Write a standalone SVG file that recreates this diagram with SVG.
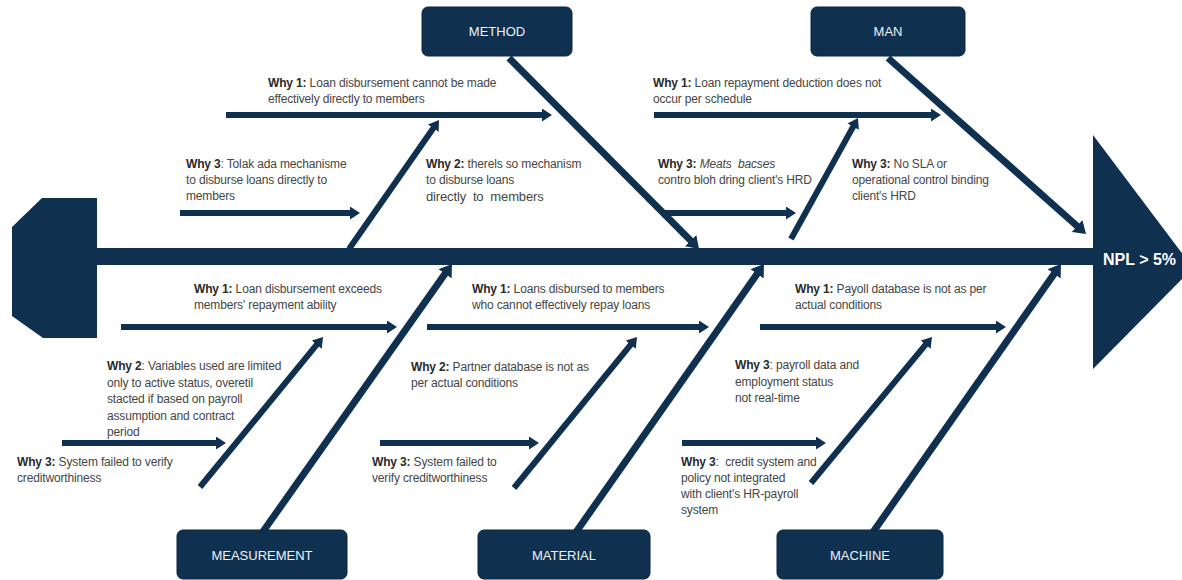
<svg xmlns="http://www.w3.org/2000/svg" width="1182" height="580" viewBox="0 0 1182 580">
<style>
.bone{stroke:#10304f;stroke-width:7;fill:none;stroke-linecap:butt}
.sub{stroke:#10304f;stroke-width:6;fill:none;stroke-linecap:butt}
.box{fill:#10304f;stroke:#0a2440;stroke-width:1}
.lbl{font-family:"Liberation Sans",Arial,sans-serif;font-size:13px;fill:#eef2f6;text-anchor:middle}
.t{font-family:"Liberation Sans",Arial,sans-serif;font-size:12px;fill:#454545;letter-spacing:-0.15px}
.b{font-weight:bold;fill:#2a2a2a}
.head{font-family:"Liberation Sans",Arial,sans-serif;font-size:16px;font-weight:bold;fill:#ffffff}
</style>
<defs>
<marker id="ah" viewBox="0 0 10 13" markerWidth="10" markerHeight="13" refX="3" refY="6.5" orient="auto" markerUnits="userSpaceOnUse"><path d="M0,0 L10,6.5 L0,13 z" fill="#10304f"/></marker>
<marker id="ahL" viewBox="0 0 12 16" markerWidth="12" markerHeight="16" refX="3" refY="8" orient="auto" markerUnits="userSpaceOnUse"><path d="M0,0 L12,8 L0,16 z" fill="#10304f"/></marker>
</defs>
<rect width="1182" height="580" fill="#ffffff"/>

<g id="tail"><polygon points="97,198 42,198 12,227 12,316 43,338 97,338" fill="#10304f"/></g>
<g id="spine"><rect x="95" y="248" width="1000" height="17" fill="#10304f"/></g>
<g id="head">
<polygon points="1093,135 1193,268 1093,369" fill="#10304f"/>
<text class="head" x="1103" y="265">NPL &gt; 5%</text>
</g>

<g id="connectors">
<line class="bone" x1="509" y1="58" x2="692.7" y2="242.6" marker-end="url(#ahL)"/>
<line class="bone" x1="888" y1="58" x2="1079.3" y2="228" marker-end="url(#ahL)"/>
<line class="bone" x1="262" y1="533" x2="446.8" y2="271.3" marker-end="url(#ahL)"/>
<line class="bone" x1="574" y1="535" x2="758.8" y2="271.4" marker-end="url(#ahL)"/>
<line class="bone" x1="871" y1="535" x2="1055.8" y2="271.4" marker-end="url(#ahL)"/>

<line class="sub" x1="349" y1="249" x2="435" y2="125.7" marker-end="url(#ah)"/>
<line class="sub" x1="791" y1="239" x2="854.6" y2="124.1" marker-end="url(#ah)"/>
<line class="sub" x1="200" y1="487" x2="318.6" y2="342.4" marker-end="url(#ah)"/>
<line class="sub" x1="514" y1="488" x2="632.6" y2="342.4" marker-end="url(#ah)"/>
<line class="sub" x1="811" y1="483" x2="927.5" y2="342.4" marker-end="url(#ah)"/>

<line class="sub" x1="226" y1="115" x2="545" y2="115" marker-end="url(#ah)"/>
<line class="sub" x1="180" y1="213" x2="353" y2="213" marker-end="url(#ah)"/>
<line class="sub" x1="654" y1="115" x2="934" y2="115" marker-end="url(#ah)"/>
<line class="sub" x1="662" y1="213" x2="789" y2="213" marker-end="url(#ah)"/>
<line class="sub" x1="121" y1="327" x2="390" y2="327" marker-end="url(#ah)"/>
<line class="sub" x1="62" y1="443" x2="219" y2="443" marker-end="url(#ah)"/>
<line class="sub" x1="427" y1="327" x2="702" y2="327" marker-end="url(#ah)"/>
<line class="sub" x1="380" y1="443" x2="532" y2="443" marker-end="url(#ah)"/>
<line class="sub" x1="760" y1="327" x2="999" y2="327" marker-end="url(#ah)"/>
<line class="sub" x1="682" y1="443" x2="819" y2="443" marker-end="url(#ah)"/>
</g>

<g id="method"><rect class="box" x="422" y="7" width="150" height="49" rx="6"/><text class="lbl" x="497" y="36">METHOD</text></g>
<g id="man"><rect class="box" x="811" y="7" width="154" height="49" rx="6"/><text class="lbl" x="888" y="36">MAN</text></g>
<g id="measurement"><rect class="box" x="177" y="530" width="170" height="49" rx="6"/><text class="lbl" x="262" y="560">MEASUREMENT</text></g>
<g id="material"><rect class="box" x="478" y="530" width="172" height="49" rx="6"/><text class="lbl" x="564" y="560">MATERIAL</text></g>
<g id="machine"><rect class="box" x="777" y="530" width="166" height="49" rx="6"/><text class="lbl" x="860" y="560">MACHINE</text></g>

<g id="method-why1"><text class="t" x="268" y="87"><tspan class="b">Why 1:</tspan> Loan disbursement cannot be made</text><text class="t" x="268" y="103">effectively directly to members</text></g>
<g id="method-why3"><text class="t" x="186" y="168"><tspan class="b">Why 3</tspan>: Tolak ada mechanisme</text><text class="t" x="186" y="184">to disburse loans directly to</text><text class="t" x="186" y="200">members</text></g>
<g id="method-why2"><text class="t" x="426" y="168"><tspan class="b">Why 2:</tspan> therels so mechanism</text><text class="t" x="426" y="184">to disburse loans</text><text class="t" x="426" y="201" xml:space="preserve" style="font-size:13px">directly  to  members</text></g>
<g id="man-why1"><text class="t" x="653" y="87"><tspan class="b">Why 1:</tspan> Loan repayment deduction does not</text><text class="t" x="653" y="103">occur per schedule</text></g>
<g id="man-why3a"><text class="t" x="658" y="168" xml:space="preserve"><tspan class="b">Why 3:</tspan> <tspan font-style="italic">Meats  bacses</tspan></text><text class="t" x="658" y="184">contro bloh dring client's HRD</text></g>
<g id="man-why3b"><text class="t" x="852" y="168"><tspan class="b">Why 3:</tspan> No SLA or</text><text class="t" x="852" y="184">operational control binding</text><text class="t" x="852" y="200">client's HRD</text></g>

<g id="measurement-why1"><text class="t" x="194" y="293"><tspan class="b">Why 1:</tspan> Loan disbursement exceeds</text><text class="t" x="194" y="309">members' repayment ability</text></g>
<g id="measurement-why2"><text class="t" x="107" y="370"><tspan class="b">Why 2</tspan>: Variables used are limited</text><text class="t" x="107" y="387">only to active status, overetil</text><text class="t" x="107" y="403">stacted if based on payroll</text><text class="t" x="107" y="420">assumption and contract</text><text class="t" x="107" y="436">period</text></g>
<g id="measurement-why3"><text class="t" x="17" y="466"><tspan class="b">Why 3:</tspan> System failed to verify</text><text class="t" x="17" y="482">creditworthiness</text></g>

<g id="material-why1"><text class="t" x="472" y="293"><tspan class="b">Why 1:</tspan> Loans disbursed to members</text><text class="t" x="472" y="309">who cannot effectively repay loans</text></g>
<g id="material-why2"><text class="t" x="411" y="371"><tspan class="b">Why 2:</tspan> Partner database is not as</text><text class="t" x="411" y="387">per actual conditions</text></g>
<g id="material-why3"><text class="t" x="372" y="466"><tspan class="b">Why 3:</tspan> System failed to</text><text class="t" x="372" y="482">verify creditworthiness</text></g>

<g id="machine-why1"><text class="t" x="795" y="293"><tspan class="b">Why 1:</tspan> Payoll database is not as per</text><text class="t" x="795" y="309">actual conditions</text></g>
<g id="machine-why3a"><text class="t" x="735" y="369"><tspan class="b">Why 3</tspan>: payroll data and</text><text class="t" x="735" y="386">employment status</text><text class="t" x="735" y="402">not real-time</text></g>
<g id="machine-why3b"><text class="t" x="681" y="466" xml:space="preserve"><tspan class="b">Why 3</tspan>:  credit system and</text><text class="t" x="681" y="482">policy not integrated</text><text class="t" x="681" y="498">with client's HR-payroll</text><text class="t" x="681" y="514">system</text></g>
</svg>
